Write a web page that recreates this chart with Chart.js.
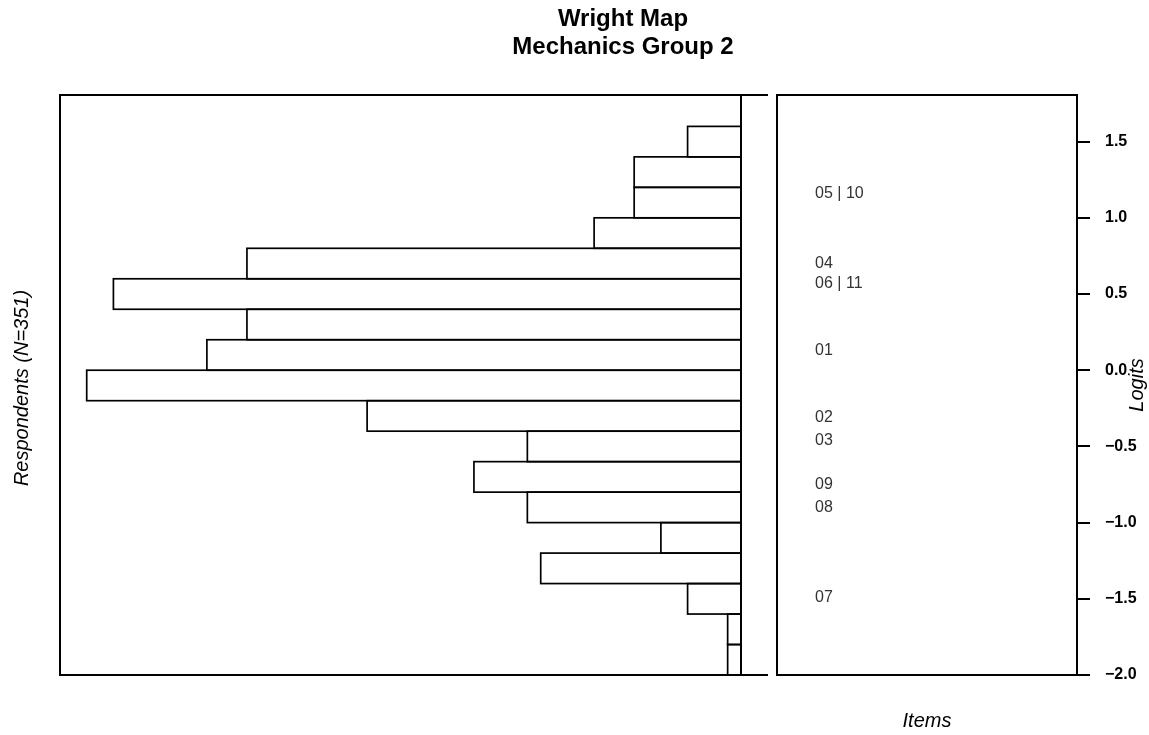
<!DOCTYPE html>
<html>
<head>
<meta charset="utf-8">
<script src="https://cdn.jsdelivr.net/npm/chart.js@4/dist/chart.umd.min.js"></script>
<style>
  html, body { margin: 0; padding: 0; background: #fff; }
  #wrap { position: relative; width: 1149px; height: 735px; overflow: hidden; background: #fff; }
  #persons { position: absolute; left: 0; top: 0; }
  #items { position: absolute; left: 775px; top: 0; }
</style>
</head>
<body>
<div id="wrap">
  <canvas id="persons" width="775" height="735"></canvas>
  <canvas id="items" width="374" height="735"></canvas>
</div>
<script>
// Person ability histogram: lower edge of each logit bin and respondent count in it
const binStarts = [-2.0, -1.8, -1.6, -1.4, -1.2, -1.0, -0.8, -0.6, -0.4, -0.2,
                   0.0, 0.2, 0.4, 0.6, 0.8, 1.0, 1.2, 1.4];
const personCounts = [1, 1, 4, 15, 6, 16, 20, 16, 28, 49,
                      40, 37, 47, 37, 11, 8, 8, 4];

// Item difficulties (logits) and their labels
const itemLabels = ['05 | 10', '04', '06 | 11', '01', '02', '03', '09', '08', '07'];
const itemLogits = [1.16, 0.70, 0.57, 0.13, -0.31, -0.46, -0.75, -0.90, -1.49];

// Logit axis ticks
const logitTicks = [-2.0, -1.5, -1.0, -0.5, 0.0, 0.5, 1.0, 1.5];

const BIN_WIDTH = 0.2;
const LOGIT_MIN = -2.0;
const LOGIT_MAX = 1.806;
const COUNT_MAX = 51;
const ITEM_X = 0.127;

Chart.defaults.font.family = "'Liberation Sans', Arial, Helvetica, sans-serif";
Chart.defaults.color = '#000';

const fmtLogit = v => (v < 0 ? '\u2212' : '') + Math.abs(v).toFixed(1);
const setLogitTicks = s => { s.ticks = logitTicks.map(v => ({ value: v })); };

// Outlines of the histogram bars, panel frame and text of the person side
const personFrame = {
  id: 'personFrame',
  afterDatasetsDraw(chart) {
    const ctx = chart.ctx;
    const ca = chart.chartArea;
    const meta = chart.getDatasetMeta(0);
    ctx.save();
    ctx.strokeStyle = '#000';
    ctx.lineWidth = 1.7;
    meta.data.forEach(el => {
      const p = el.getProps(['x', 'y', 'base', 'height'], true);
      const left = Math.min(p.x, p.base);
      const w = Math.abs(p.x - p.base);
      ctx.strokeRect(left, p.y - p.height / 2, w, p.height);
    });

    ctx.lineWidth = 2;
    ctx.beginPath();
    ctx.moveTo(ca.right + 27, ca.top);
    ctx.lineTo(ca.left, ca.top);
    ctx.lineTo(ca.left, ca.bottom);
    ctx.lineTo(ca.right + 27, ca.bottom);
    ctx.moveTo(ca.right, ca.top);
    ctx.lineTo(ca.right, ca.bottom);
    ctx.stroke();

    // Main title
    ctx.fillStyle = '#000';
    ctx.textAlign = 'center';
    ctx.textBaseline = 'middle';
    ctx.font = "bold 24px 'Liberation Sans', Arial, sans-serif";
    ctx.fillText('Wright Map', 623, 19);
    ctx.fillText('Mechanics Group 2', 623, 47);

    // Respondent axis title
    ctx.font = "italic 20px 'Liberation Sans', Arial, sans-serif";
    ctx.translate(22, 388);
    ctx.rotate(-Math.PI / 2);
    ctx.fillText('Respondents (N=351)', 0, 0);
    ctx.restore();
  }
};

new Chart(document.getElementById('persons'), {
  type: 'bar',
  data: {
    datasets: [{
      data: binStarts.map((b, i) => ({ x: personCounts[i], y: b + BIN_WIDTH / 2 })),
      backgroundColor: '#fff',
      borderWidth: 0,
      categoryPercentage: 1,
      barPercentage: 1
    }]
  },
  options: {
    indexAxis: 'y',
    responsive: false,
    animation: false,
    devicePixelRatio: 1,
    layout: { padding: { left: 60, right: 34, top: 95, bottom: 60 } },
    plugins: { legend: { display: false }, tooltip: { enabled: false } },
    scales: {
      x: { type: 'linear', reverse: true, min: 0, max: COUNT_MAX, display: false },
      y: { type: 'linear', min: LOGIT_MIN, max: LOGIT_MAX, offset: false, display: false,
           afterBuildTicks: setLogitTicks }
    }
  },
  plugins: [personFrame]
});

// Item panel frame, item labels and axis titles
const itemFrame = {
  id: 'itemFrame',
  afterDatasetsDraw(chart) {
    const ctx = chart.ctx;
    const ca = chart.chartArea;
    const meta = chart.getDatasetMeta(0);
    ctx.save();
    ctx.strokeStyle = '#000';
    ctx.lineWidth = 2;
    ctx.strokeRect(ca.left, ca.top, ca.right - ca.left, ca.bottom - ca.top);

    ctx.fillStyle = '#333';
    ctx.font = "16px 'Liberation Sans', Arial, sans-serif";
    ctx.textAlign = 'left';
    ctx.textBaseline = 'middle';
    meta.data.forEach((pt, i) => {
      ctx.fillText(itemLabels[i], pt.x, pt.y + 0.5);
    });

    ctx.fillStyle = '#000';
    ctx.textAlign = 'center';
    ctx.font = "italic 20px 'Liberation Sans', Arial, sans-serif";
    ctx.fillText('Items', (ca.left + ca.right) / 2, 721);

    ctx.translate(362, 385);
    ctx.rotate(-Math.PI / 2);
    ctx.fillText('Logits', 0, 0);
    ctx.restore();
  }
};

new Chart(document.getElementById('items'), {
  type: 'scatter',
  data: {
    datasets: [{
      data: itemLogits.map(v => ({ x: ITEM_X, y: v })),
      pointRadius: 0,
      pointHoverRadius: 0
    }]
  },
  options: {
    responsive: false,
    animation: false,
    devicePixelRatio: 1,
    layout: { padding: { left: 2, right: 0, top: 95, bottom: 60 } },
    plugins: { legend: { display: false }, tooltip: { enabled: false } },
    scales: {
      x: { type: 'linear', min: 0, max: 1, display: false },
      y: {
        type: 'linear',
        position: 'right',
        min: LOGIT_MIN,
        max: LOGIT_MAX,
        afterBuildTicks: setLogitTicks,
        afterFit: s => { s.width = 72; },
        border: { display: false },
        grid: { display: true, drawOnChartArea: false, drawTicks: true, tickLength: 13,
                color: '#000', lineWidth: 2 },
        ticks: { padding: 15, crossAlign: 'near', autoSkip: false, color: '#000',
                 font: { size: 16, weight: 'bold' }, callback: v => fmtLogit(v) }
      }
    }
  },
  plugins: [itemFrame]
});
</script>
</body>
</html>
